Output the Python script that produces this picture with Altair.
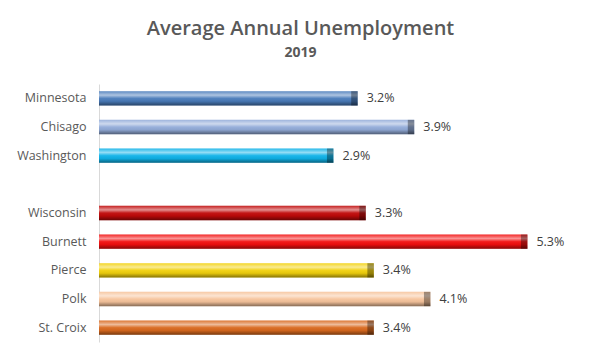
import altair as alt
import pandas as pd

regions = ["Minnesota", "Chisago", "Washington", "Wisconsin", "Burnett", "Pierce", "Polk", "St. Croix"]
rates = [3.2, 3.9, 2.9, 3.3, 5.3, 3.4, 4.1, 3.4]
bar_colors = ["#4a7cbb", "#93acd9", "#0fb2e8", "#c00a0a", "#f20f0f", "#f2d10c", "#f7c49c", "#d9691e"]
row_order = ["Minnesota", "Chisago", "Washington", " ", "Wisconsin", "Burnett", "Pierce", "Polk", "St. Croix"]

df = pd.DataFrame({"region": regions, "rate": rates})

FONT = "Open Sans"

y_scale = alt.Scale(domain=row_order, paddingInner=0.5, paddingOuter=0.25)
y_enc = alt.Y(
    "region:N",
    scale=y_scale,
    axis=alt.Axis(
        title=None, ticks=False, grid=False, labelPadding=13,
        labelFont=FONT, labelFontSize=12.5, labelColor="#595959",
        domainColor="#d9d9d9", domainWidth=1,
    ),
)
x_scale = alt.Scale(domain=[0, 6])

base = alt.Chart(df)

bars = base.mark_bar(cornerRadius=0).encode(
    x=alt.X("rate:Q", scale=x_scale, axis=None),
    y=y_enc,
    color=alt.Color("region:N", scale=alt.Scale(domain=regions, range=bar_colors), legend=None),
)

shine = base.mark_bar(
    color=alt.LinearGradient(
        gradient="linear", x1=0, y1=0, x2=0, y2=1,
        stops=[
            alt.GradientStop(color="rgba(255,255,255,0.10)", offset=0),
            alt.GradientStop(color="rgba(255,255,255,0.55)", offset=0.28),
            alt.GradientStop(color="rgba(255,255,255,0.05)", offset=0.5),
            alt.GradientStop(color="rgba(0,0,0,0.05)", offset=0.7),
            alt.GradientStop(color="rgba(0,0,0,0.45)", offset=1),
        ],
    )
).encode(
    x=alt.X("rate:Q", scale=x_scale),
    y=alt.Y("region:N", scale=y_scale),
)

cap = base.transform_calculate(start="datum.rate - 0.08").mark_bar(
    color="#000000", opacity=0.35
).encode(
    x=alt.X("start:Q", scale=x_scale),
    x2="rate:Q",
    y=alt.Y("region:N", scale=y_scale),
)

labels = base.transform_calculate(lab="format(datum.rate, '.1f') + '%'").mark_text(
    align="left", baseline="middle", dx=9, font=FONT, fontSize=12.5, color="#404040"
).encode(
    x=alt.X("rate:Q", scale=x_scale),
    y=alt.Y("region:N", scale=y_scale),
    text="lab:N",
)

chart = alt.layer(bars, shine, cap, labels).properties(
    width=485,
    height=258,
    background="white",
    autosize=alt.AutoSizeParams(type="none"),
    padding={"left": 91, "top": 76, "right": 8, "bottom": 10},
    title=alt.TitleParams(
        text="Average Annual Unemployment",
        subtitle="2019",
        anchor="middle",
        frame="group",
        dx=-41,
        font=FONT, fontSize=20, fontWeight=600, color="#595959",
        subtitleFont=FONT, subtitleFontSize=14, subtitleFontWeight="bold", subtitleColor="#595959",
        subtitlePadding=7,
        offset=24,
    ),
).configure_view(strokeWidth=0, stroke="transparent")

chart.save("out.html", embed_options={"renderer": "svg", "actions": False})
